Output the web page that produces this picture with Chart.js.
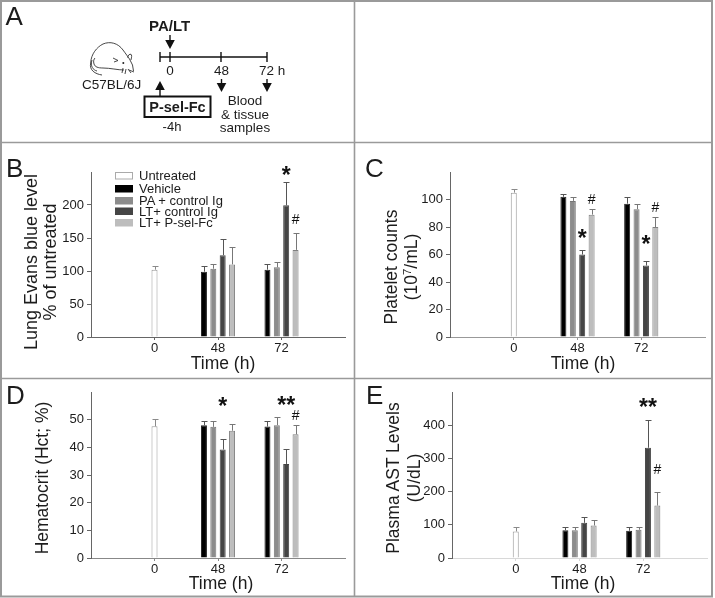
<!DOCTYPE html>
<html lang="en">
<head>
<meta charset="UTF-8">
<title>PA/LT panels</title>
<script src="https://cdn.jsdelivr.net/npm/chart.js"></script>
<style>
    html, body { margin: 0; padding: 0; background: #fff; }
    #page { position: relative; width: 715px; height: 598px; overflow: hidden; background: #fff; }
    #page canvas { position: absolute; }
    #overlay { position: absolute; left: 0; top: 0; pointer-events: none; }
    #overlay text { font-family: "Liberation Sans", Arial, sans-serif; fill: #1c1c1c; }
</style>
</head>
<body>
<div id="page">
    <canvas id="chartB"></canvas>
    <canvas id="chartC"></canvas>
    <canvas id="chartD"></canvas>
    <canvas id="chartE"></canvas>
    <svg id="overlay" width="715" height="598" xmlns="http://www.w3.org/2000/svg"></svg>
</div>

<script>
// categories, blank ends pad the axis so 0/48/72 land where they do in the figure
const timeLabels = ['', '0', '48', '72', ''];
const seriesNames = ['Untreated', 'Vehicle', 'PA + control Ig', 'LT+ control Ig', 'LT+ P-sel-Fc'];
const seriesColors = ['#ffffff', '#000000', '#8c8c8c', '#454545', '#bdbdbd'];
const seriesBorders = ['#999999', '#222222', '#777777', '#444444', '#808080'];
const errorColors = ['#8a8a8a', '#555555', '#777777', '#555555', '#777777'];

// panel B, lung Evans blue
const untreatedB = [null, 102, null, null, null];
const vehicleB = [null, null, 99, 102, null];
const paB = [null, null, 103.5, 105.5, null];
const ltB = [null, null, 124, 199.5, null];
const pselB = [null, null, 110, 132, null];
const errUntreatedB = [null, 5.5, null, null, null];
const errVehicleB = [null, null, 8.5, 8, null];
const errPaB = [null, null, 7.5, 8, null];
const errLtB = [null, null, 24, 35.5, null];
const errPselB = [null, null, 26, 25.5, null];
const ticksB = [0, 50, 100, 150, 200];
const marksB = [['*', 3, 3, 249], ['#', 4, 3, 178]];

// panel C, platelets
const untreatedC = [null, 105, null, null, null];
const vehicleC = [null, null, 102, 97, null];
const paC = [null, null, 99, 93, null];
const ltC = [null, null, 60, 52, null];
const pselC = [null, null, 89, 80, null];
const errUntreatedC = [null, 2.7, null, null, null];
const errVehicleC = [null, null, 2, 5, null];
const errPaC = [null, null, 3, 4, null];
const errLtC = [null, null, 3, 3, null];
const errPselC = [null, null, 4, 7, null];
const ticksC = [0, 20, 40, 60, 80, 100];
const marksC = [['*', 3, 2, 73.7], ['#', 4, 2, 100], ['*', 3, 3, 68.8], ['#', 4, 3, 94.4]];

// panel D, hematocrit
const untreatedD = [null, 47.6, null, null, null];
const vehicleD = [null, null, 48, 47.5, null];
const paD = [null, null, 47.4, 48, null];
const ltD = [null, null, 39.2, 34, null];
const pselD = [null, null, 46, 44.7, null];
const errUntreatedD = [null, 2.5, null, null, null];
const errVehicleD = [null, null, 1.4, 1.9, null];
const errPaD = [null, null, 2, 2.8, null];
const errLtD = [null, null, 3.8, 5.3, null];
const errPselD = [null, null, 2.3, 3.3, null];
const ticksD = [0, 10, 20, 30, 40, 50];
const marksD = [['*', 3, 2, 55.5], ['**', 3, 3, 56], ['#', 4, 3, 51.8]];

// panel E, plasma AST
const untreatedE = [null, 80, null, null, null];
const vehicleE = [null, null, 83.6, 82, null];
const paE = [null, null, 83.6, 85, null];
const ltE = [null, null, 106, 332, null];
const pselE = [null, null, 98, 158, null];
const errUntreatedE = [null, 12, null, null, null];
const errVehicleE = [null, null, 8.4, 10, null];
const errPaE = [null, null, 8.4, 7, null];
const errLtE = [null, null, 19, 84, null];
const errPselE = [null, null, 16, 40, null];
const ticksE = [0, 100, 200, 300, 400];
const marksE = [['**', 3, 3, 460], ['#', 4, 3, 269]];

const FONT = '"Liberation Sans", Arial, sans-serif';
const TEXT = '#1c1c1c';

// error whiskers and significance marks, read from the bar elements and the y scale
const annotationPlugin = {
    id: 'annotations',
    afterDatasetsDraw(chart) {
        const c = chart.ctx, y = chart.scales.y;
        const errs = chart.options.plugins.annotations.errors;
        const marks = chart.options.plugins.annotations.marks;
        c.save();
        chart.data.datasets.forEach((ds, i) => {
            const bars = chart.getDatasetMeta(i).data;
            c.strokeStyle = errorColors[i];
            c.lineWidth = 1;
            ds.data.forEach((v, k) => {
                if (v === null) return;
                const x = Math.round(bars[k].x) + 0.5;
                const top = Math.round(y.getPixelForValue(v + errs[i][k])) + 0.5;
                c.beginPath();
                c.moveTo(x, y.getPixelForValue(v));
                c.lineTo(x, top);
                c.moveTo(x - 3, top);
                c.lineTo(x + 3, top);
                c.stroke();
            });
        });
        c.fillStyle = '#111';
        c.textAlign = 'center';
        marks.forEach(([txt, i, k, val]) => {
            const bar = chart.getDatasetMeta(i).data[k];
            if (txt === '#') {
                c.font = '14px ' + FONT;
                c.textBaseline = 'middle';
                c.fillText(txt, bar.x, y.getPixelForValue(val) + 1);
            } else {
                c.font = 'bold 23px ' + FONT;
                c.textBaseline = 'top';
                c.fillText(txt, bar.x, y.getPixelForValue(val) - 8);
            }
        });
        c.restore();
    }
};

function makePanel(id, box, plot, yMax, yTicks, series, errors, marks, xAxisColor) {
    const canvas = document.getElementById(id);
    canvas.style.left = box.left + 'px';
    canvas.style.top = box.top + 'px';
    canvas.width = box.width;
    canvas.height = box.height;
    canvas.style.width = box.width + 'px';
    canvas.style.height = box.height + 'px';
    new Chart(canvas.getContext('2d'), {
        type: 'bar',
        data: {
            labels: timeLabels,
            datasets: seriesNames.map((name, i) => ({
                label: name,
                data: series[i],
                backgroundColor: seriesColors[i],
                borderColor: seriesBorders[i],
                borderWidth: 1,
                skipNull: true,
                categoryPercentage: 0.59,
                barPercentage: 0.66,
                maxBarThickness: 6
            }))
        },
        options: {
            responsive: false,
            animation: false,
            layout: { padding: { top: plot.top - box.top, right: box.left + box.width - plot.right, left: 0, bottom: 0 } },
            plugins: {
                legend: { display: false },
                tooltip: { enabled: false },
                annotations: { errors: errors, marks: marks }
            },
            scales: {
                x: {
                    offset: false,
                    grid: { offset: false, drawOnChartArea: false, tickLength: 3, color: xAxisColor },
                    border: { color: xAxisColor },
                    ticks: { color: TEXT, font: { family: FONT, size: 13 }, padding: 1, maxRotation: 0, autoSkip: false },
                    afterBuildTicks: s => { s.ticks = s.ticks.filter(t => timeLabels[t.value] !== ''); },
                    afterFit: s => { s.height = box.top + box.height - plot.bottom; }
                },
                y: {
                    min: 0,
                    max: yMax,
                    grid: { drawOnChartArea: false, tickLength: 4, color: '#666' },
                    border: { color: '#666' },
                    ticks: { color: TEXT, font: { family: FONT, size: 13 }, padding: 3 },
                    afterBuildTicks: s => { s.ticks = yTicks.map(v => ({ value: v })); },
                    afterFit: s => { s.width = plot.left - box.left; }
                }
            }
        },
        plugins: [annotationPlugin]
    });
}

makePanel('chartB', { left: 3, top: 146, width: 349, height: 230 }, { left: 91, top: 172, right: 345, bottom: 337 }, 250, ticksB,
    [untreatedB, vehicleB, paB, ltB, pselB], [errUntreatedB, errVehicleB, errPaB, errLtB, errPselB], marksB, '#666');
makePanel('chartC', { left: 357, top: 146, width: 351, height: 230 }, { left: 450, top: 172, right: 705, bottom: 337 }, 120, ticksC,
    [untreatedC, vehicleC, paC, ltC, pselC], [errUntreatedC, errVehicleC, errPaC, errLtC, errPselC], marksC, '#999');
makePanel('chartD', { left: 3, top: 381, width: 349, height: 213 }, { left: 91, top: 392, right: 345, bottom: 558 }, 60, ticksD,
    [untreatedD, vehicleD, paD, ltD, pselD], [errUntreatedD, errVehicleD, errPaD, errLtD, errPselD], marksD, '#888');
makePanel('chartE', { left: 357, top: 381, width: 351, height: 213 }, { left: 452, top: 392, right: 707, bottom: 558 }, 500, ticksE,
    [untreatedE, vehicleE, paE, ltE, pselE], [errUntreatedE, errVehicleE, errPaE, errLtE, errPselE], marksE, '#d8d8d8');

// everything outside the plots: frame, panel letters, axis titles, legend, schematic A
const svg = document.getElementById('overlay');
function el(tag, attrs, txt) {
    const n = document.createElementNS('http://www.w3.org/2000/svg', tag);
    for (const k in attrs) n.setAttribute(k, attrs[k]);
    if (txt !== undefined) n.textContent = txt;
    svg.appendChild(n);
    return n;
}
function label(txt, x, y, size, opts) {
    return el('text', Object.assign({ x: x, y: y, 'font-size': size }, opts || {}), txt);
}
function line(x1, y1, x2, y2, w, col) {
    el('line', { x1, y1, x2, y2, stroke: col || '#111', 'stroke-width': w || 1.5 });
}
function arrow(x, y1, y2) {
    const d = y2 > y1 ? 1 : -1;
    line(x, y1, x, y2 - d * 6, 1.4);
    el('path', { d: `M${x - 4.8} ${y2 - d * 9}L${x + 4.8} ${y2 - d * 9}L${x} ${y2}Z`, fill: '#111' });
}
function yTitle(txt, x, y, size) {
    return label(txt, x, y, size, { 'text-anchor': 'middle', transform: `rotate(-90 ${x} ${y})` });
}

// frame
const FRAME = '#9a9a9a';
el('rect', { x: 1, y: 1, width: 711, height: 595.5, fill: 'none', stroke: FRAME, 'stroke-width': 2 });
line(354.5, 0, 354.5, 597, 1.6, FRAME);
line(0, 142.5, 712, 142.5, 1.6, FRAME);
line(0, 378.5, 712, 378.5, 1.6, FRAME);

// panel letters
label('A', 5.5, 25, 26);
label('B', 6, 177, 26);
label('C', 365, 177, 26);
label('D', 6, 404, 26);
label('E', 366, 404, 26);

// axis titles
yTitle('Lung Evans blue level', 37, 262, 18);
yTitle('% of untreated', 56, 262, 18);
label('Time (h)', 223, 369, 17.5, { 'text-anchor': 'middle' });
yTitle('Platelet counts', 397, 267, 17.5);
const platelet = yTitle('(10', 417, 267, 17.5);
const sup = document.createElementNS('http://www.w3.org/2000/svg', 'tspan');
sup.setAttribute('dy', '-6');
sup.setAttribute('font-size', '11.5');
sup.textContent = '7';
platelet.appendChild(sup);
const supEnd = document.createElementNS('http://www.w3.org/2000/svg', 'tspan');
supEnd.setAttribute('dy', '6');
supEnd.textContent = '/mL)';
platelet.appendChild(supEnd);
label('Time (h)', 583, 369, 17.5, { 'text-anchor': 'middle' });
yTitle('Hematocrit (Hct; %)', 48, 478, 17.5);
label('Time (h)', 221, 589, 17.5, { 'text-anchor': 'middle' });
yTitle('Plasma AST Levels', 399, 478, 17.5);
yTitle('(U/dL)', 420, 478, 17.5);
label('Time (h)', 583, 589, 17.5, { 'text-anchor': 'middle' });

// legend in panel B
const legendY = [172, 185, 197, 207.5, 219];
seriesNames.forEach((name, i) => {
    el('rect', { x: 115.5, y: legendY[i] + 0.5, width: 17, height: 6.5, fill: seriesColors[i], stroke: i ? seriesColors[i] : '#aaa', 'stroke-width': 1 });
    label(name, 139, legendY[i] + 8, 13);
});

// schematic A
label('PA/LT', 149, 31, 15, { 'font-weight': 'bold' });
arrow(170, 35, 49);
line(160, 57, 267, 57, 1.5);
[160, 170, 221, 267].forEach(x => line(x, 52, x, 62, 1.4));
label('0', 170, 75, 13.5, { 'text-anchor': 'middle' });
label('48', 221.5, 75, 13.5, { 'text-anchor': 'middle' });
label('72 h', 259, 75, 13.5);
arrow(160, 97, 81);
arrow(221.5, 79, 92);
arrow(267, 79, 92);
el('rect', { x: 144.5, y: 96.5, width: 66, height: 20.5, fill: '#fff', stroke: '#111', 'stroke-width': 2 });
label('P-sel-Fc', 177.5, 111.5, 14.5, { 'font-weight': 'bold', 'text-anchor': 'middle' });
label('-4h', 172, 131, 13, { 'text-anchor': 'middle' });
label('Blood', 245, 105, 13.5, { 'text-anchor': 'middle' });
label('& tissue', 245, 119, 13.5, { 'text-anchor': 'middle' });
label('samples', 245, 132, 13.5, { 'text-anchor': 'middle' });
label('C57BL/6J', 82, 89, 13.5);

// mouse outline
const mouseLine = { fill: 'none', stroke: '#333', 'stroke-width': 0.9 };
el('path', Object.assign({ d: 'M90.7 63 C91 54 97 47 103 44 C110 41 118 43 123 50 C126 54 128 57 129.5 59 L132.5 65 L133.5 71' }, mouseLine));
el('path', Object.assign({ d: 'M128 58 C127 55 131 53 131.5 55 C132 57 131 59 131 60' }, mouseLine));
el('path', Object.assign({ d: 'M124 70 C118 70 110 68 103 68 C98 68 95 67 94 64 C93 61 94 59 95 58' }, mouseLine));
el('path', Object.assign({ d: 'M90.7 63 C89 70 95 74 102 75 M92 60 C90 66 93 70 97 71' }, mouseLine));
el('path', Object.assign({ d: 'M113 58 L118 60.5 L114 62 M123 68 L122 73 M126 69 L125 74 M128 69 L131 73 M129 70 L134 72' }, mouseLine));
el('circle', { cx: 123.3, cy: 63, r: 1, fill: '#222' });
</script>
</body>
</html>
